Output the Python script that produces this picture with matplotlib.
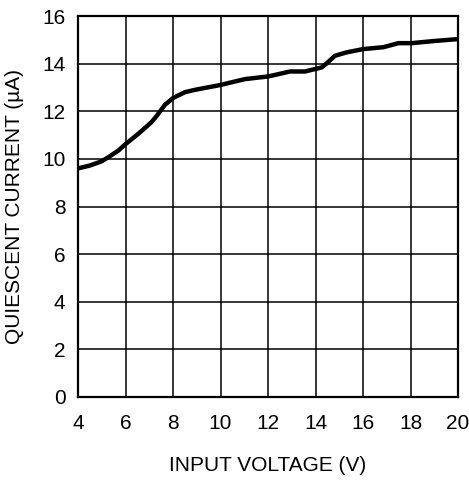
import matplotlib
matplotlib.use("Agg")
import matplotlib.pyplot as plt

voltage = [4.0, 4.5, 5.0, 5.28, 5.7, 6.05, 6.5, 6.89, 7.1, 7.31, 7.66, 8.01, 8.5, 8.93, 9.98, 11.03, 12.0, 12.93, 13.56, 14.26, 14.47, 14.82, 15.3, 16.0, 16.86, 17.49, 18.05, 19.0, 20.0]
current = [9.6, 9.72, 9.9, 10.07, 10.35, 10.66, 11.02, 11.36, 11.55, 11.8, 12.27, 12.56, 12.8, 12.9, 13.1, 13.35, 13.46, 13.67, 13.67, 13.84, 14.01, 14.33, 14.47, 14.61, 14.69, 14.86, 14.86, 14.95, 15.03]

xticks = [4, 6, 8, 10, 12, 14, 16, 18, 20]
yticks = [0, 2, 4, 6, 8, 10, 12, 14, 16]

plt.rcParams['font.family'] = ['Liberation Sans', 'DejaVu Sans']

fig = plt.figure(figsize=(4.69, 4.80), dpi=100)
ax = fig.add_axes([78/469, 1-397/480, 380/469, 381/480])
ax.plot(voltage, current, color='black', lw=3.2, solid_capstyle='butt', solid_joinstyle='round', zorder=3)
ax.set_xlim(4, 20)
ax.set_ylim(0, 16)
ax.set_xticks(xticks)
ax.set_yticks(yticks)
ax.grid(True, color='black', lw=1.1)
ax.tick_params(length=0, labelsize=15)
ax.tick_params(axis='x', pad=12)
ax.tick_params(axis='y', pad=9)
for s in ax.spines.values():
    s.set_linewidth(1.6)
ax.set_xlabel('INPUT VOLTAGE (V)', fontsize=15, labelpad=17)
ax.set_ylabel('QUIESCENT CURRENT (µA)', fontsize=15, labelpad=13)
fig.savefig('out.png', dpi=100)
